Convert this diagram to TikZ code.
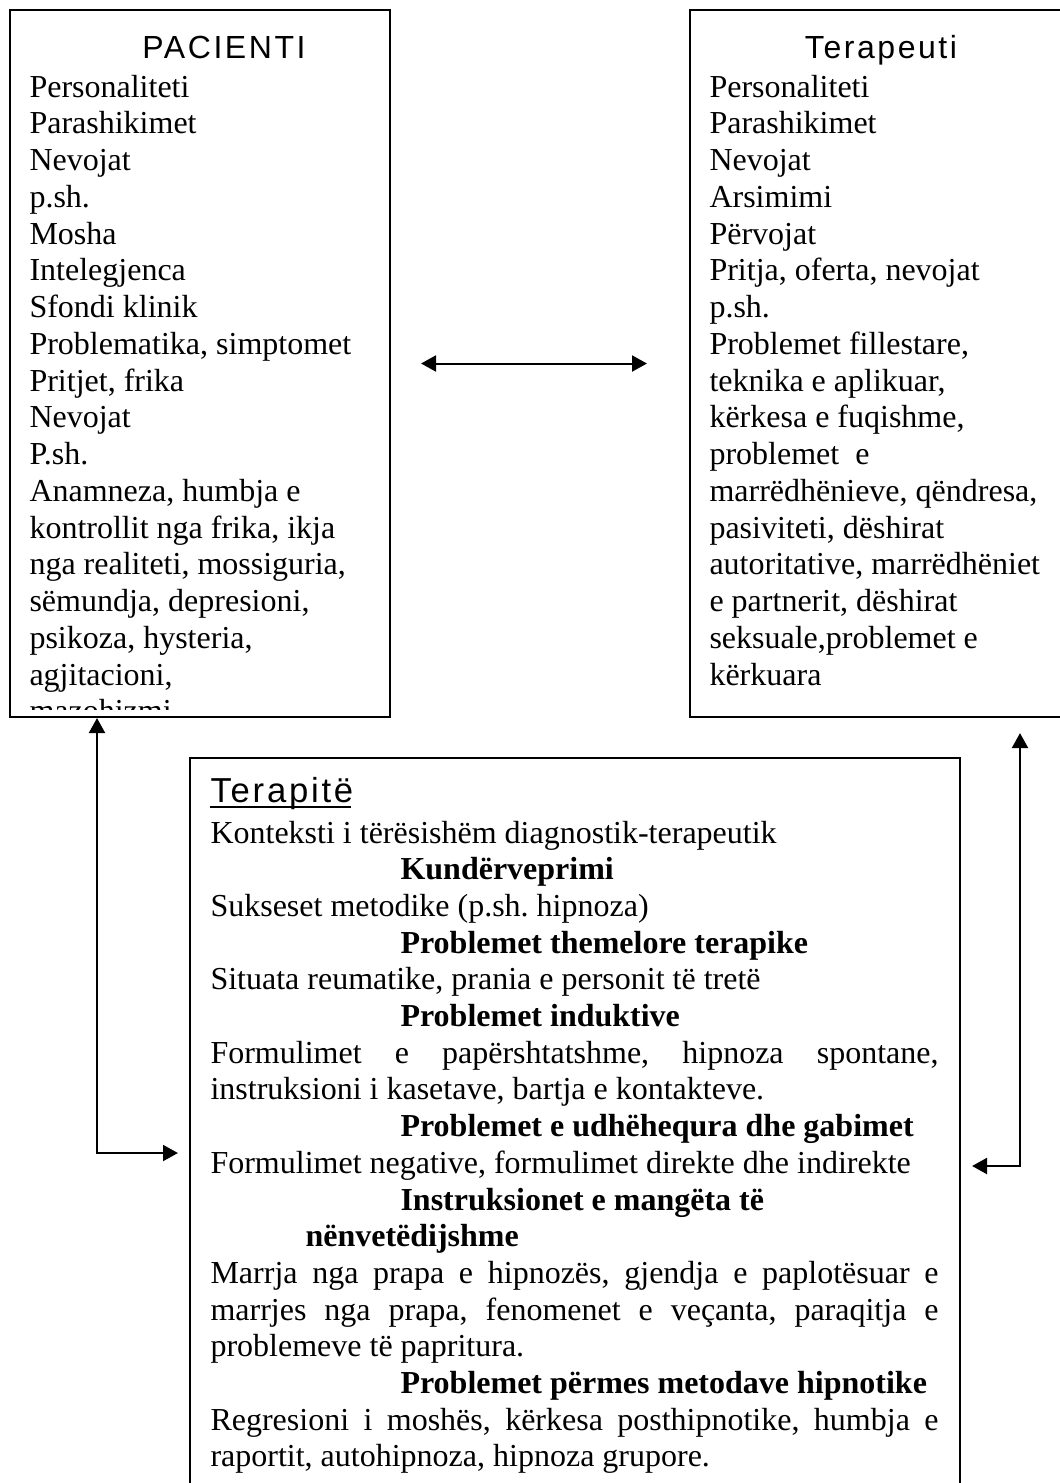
\documentclass[tikz,border=0pt]{standalone}
\usepackage{fontspec}
\setmainfont{Liberation Serif}
\newfontfamily\hdfont[LetterSpace=8]{Liberation Sans}
\newfontfamily\hdfontb[LetterSpace=8]{Liberation Sans}
\usetikzlibrary{arrows.meta,calc}
\frenchspacing
\begin{document}
\frenchspacing
\begin{tikzpicture}[x=0.375pt,y=-0.375pt,
  box/.style={draw, line width=0.8pt, inner sep=0pt},
  txt/.style={anchor=base west, inner sep=0pt, font=\fontsize{12}{13.8}\selectfont},
  bld/.style={anchor=base west, inner sep=0pt, font=\fontsize{12}{13.8}\selectfont\bfseries},
  hd/.style={anchor=base, inner sep=0pt, font=\hdfont\fontsize{12}{14}\selectfont},
  arr/.style={{Triangle[length=5.6pt,width=6pt]}-{Triangle[length=5.6pt,width=6pt]}, line width=0.75pt}]
\useasboundingbox (0,0) rectangle (1060,1483);
\fill[white] (0,0) rectangle (1060,1483);
% boxes
\node[box, minimum width=142.5pt, minimum height=265.125pt] (pac) at (200,363.5) {};
\node[box, minimum width=150pt, minimum height=265.125pt] (ter) at (890,363.5) {};
\node[box, minimum width=288.75pt, minimum height=289.5pt] (ther) at (575,1144) {};
% headings
\node[hd] (phd) at (224,58) {PACIENTI};
\node[hd] (thdr) at (881,58) {Terapeuti};
\node[anchor=base west, inner sep=0pt, font=\hdfontb\fontsize{13}{15}\selectfont] (thd) at (210,802) {Terapitë};
\draw[line width=0.75pt] ($(thd.base west)+(0,5)$) -- ($(thd.base east)+(-3,5)$);
% left box text (clipped by the box)
\begin{scope}
\clip (11,11) rectangle (389,709);
\foreach \t [count=\i] in {Personaliteti, Parashikimet, Nevojat, p.sh., Mosha, Intelegjenca, Sfondi klinik, {Problematika, simptomet}, {Pritjet, frika}, Nevojat, P.sh., {Anamneza, humbja e}, {kontrollit nga frika, ikja}, {nga realiteti, mossiguria,}, {sëmundja, depresioni,}, {psikoza, hysteria,}, {agjitacioni,}, mazohizmi}
  \node[txt] (pl\i) at (29,{97+36.75*(\i-1)}) {\t};
\end{scope}
% right box text
\foreach \t [count=\i] in {Personaliteti, Parashikimet, Nevojat, Arsimimi, Përvojat, {Pritja, oferta, nevojat}, p.sh., {Problemet fillestare,}, {teknika e aplikuar,}, {kërkesa e fuqishme,}, {problemet\ \ e}, {marrëdhënieve, qëndresa,}, {pasiviteti, dëshirat}, {autoritative, marrëdhëniet}, {e partnerit, dëshirat}, {seksuale,problemet e}, kërkuara}
  \node[txt] (tl\i) at (709,{97+36.75*(\i-1)}) {\t};
% bottom box text
\node[txt] (b0) at (210,843) {Konteksti i tërësishëm diagnostik-terapeutik};
\node[bld] (b1) at (400,879.7) {Kundërveprimi};
\node[txt] (b2) at (210,916.4) {Sukseset metodike (p.sh. hipnoza)};
\node[bld] (b3) at (400,953.1) {Problemet themelore terapike};
\node[txt] (b4) at (210,989.8) {Situata reumatike, prania e personit të tretë};
\node[bld] (b5) at (400,1026.5) {Problemet induktive};
\node[txt] (b6) at (210,1063.2) {\makebox[273pt][s]{Formulimet e papërshtatshme, hipnoza spontane,}};
\node[txt] (b7) at (210,1099.9) {instruksioni i kasetave, bartja e kontakteve.};
\node[bld] (b8) at (400,1136.6) {Problemet e udhëhequra dhe gabimet};
\node[txt] (b9) at (210,1173.3) {Formulimet negative, formulimet direkte dhe indirekte};
\node[bld] (b10) at (400,1210) {Instruksionet e mangëta të};
\node[bld] (b11) at (305,1246.7) {nënvetëdijshme};
\node[txt] (b12) at (210,1283.4) {\makebox[273pt][s]{Marrja nga prapa e hipnozës, gjendja e paplotësuar e}};
\node[txt] (b13) at (210,1320.1) {\makebox[273pt][s]{marrjes nga prapa, fenomenet e veçanta, paraqitja e}};
\node[txt] (b14) at (210,1356.8) {problemeve të papritura.};
\node[bld] (b15) at (400,1393.5) {Problemet përmes metodave hipnotike};
\node[txt] (b16) at (210,1430.2) {\makebox[273pt][s]{Regresioni i moshës, kërkesa posthipnotike, humbja e}};
\node[txt] (b17) at (210,1466.9) {raportit, autohipnoza, hipnoza grupore.};
% connectors
\draw[arr] ($(pac.east)+(30,0)$) -- ($(ter.west)+(-42,0)$);
\coordinate (lc) at (97,1153);
\draw[arr] (lc |- pac.south) -- (lc) -- ($(lc -| ther.west)+(-11,0)$);
\coordinate (rc) at (1020,1166);
\draw[arr] ($(rc |- ter.south)+(0,15)$) -- (rc) -- ($(rc -| ther.east)+(11,0)$);
\end{tikzpicture}
\end{document}
